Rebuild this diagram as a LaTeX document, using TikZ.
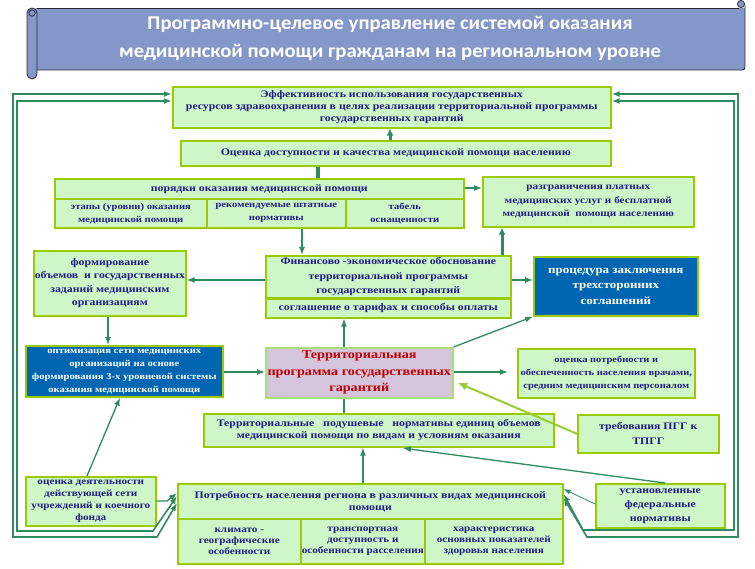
\documentclass[tikz,border=0pt]{standalone}
\usepackage{fontspec}
\setmainfont{Liberation Serif}[FakeStretch=1.18]
\newfontfamily\titlefont{Carlito}[FakeStretch=1.06]
\usetikzlibrary{arrows.meta,calc}
\definecolor{boxfill}{RGB}{206,246,198}
\definecolor{boxline}{RGB}{153,204,0}
\definecolor{txtblue}{RGB}{30,30,135}
\definecolor{arrgreen}{RGB}{46,139,96}
\definecolor{lgarr}{RGB}{153,204,51}
\definecolor{bluefill}{RGB}{0,102,178}
\definecolor{lavfill}{RGB}{212,196,220}
\definecolor{terrline}{RGB}{170,220,120}
\definecolor{terrtext}{RGB}{192,0,0}
\definecolor{titlefill}{RGB}{132,151,201}
\definecolor{titleline}{RGB}{40,40,50}
\begin{document}
\begin{tikzpicture}[x=1pt,y=-1pt,
  sz/.style 2 args={minimum width=#1pt, minimum height=#2pt},
  box/.style={draw=boxline, line width=1.6pt, fill=boxfill, text=txtblue,
    font=\bfseries\fontsize{10}{12}\selectfont, align=center, inner sep=1pt, anchor=north west},
  bluebox/.style={box, fill=bluefill, text=white},
  terrbox/.style={box, draw=terrline, fill=lavfill, text=terrtext, font=\bfseries\fontsize{12}{16.5}\selectfont},
  arr/.style={draw=arrgreen, line width=1.3pt, -{Latex[length=8pt,width=6pt]}},
  thinarr/.style={draw=arrgreen, line width=0.8pt, -{Latex[length=7pt,width=5pt]}},
  thickarr/.style={draw=arrgreen, line width=3pt, -{Latex[length=7pt,width=7pt]}},
  thickline/.style={draw=arrgreen, line width=4pt},
  plainline/.style={draw=arrgreen, line width=1.3pt},
  lgarrow/.style={draw=lgarr, line width=2pt, -{Latex[length=10pt,width=8pt]}},
  loop/.style={draw=arrgreen, line width=1.6pt, {Latex[length=8pt,width=6pt]}-{Latex[length=8pt,width=6pt]}},
  ttl/.style={text=white, font=\titlefont\bfseries\fontsize{19.5}{28}\selectfont, align=center}
]
\useasboundingbox (0,0) rectangle (755,569);
% ---- title scroll
\fill[titlefill] (35,8) rectangle (745,70);
\draw[titleline, line width=0.8pt] (37,8) -- (739,8);
\draw[titleline, line width=0.8pt, rounded corners=3] (745,5) -- (745,70) -- (37,70);
\draw[titleline, line width=0.7pt, fill=titlefill] (741,4) circle (3.6);
\draw[titleline, line width=0.8pt, fill=titlefill, rounded corners=5] (27,8) rectangle (37,79);
\draw[titleline, line width=0.7pt] (32,13) circle (3.2);
\node[ttl] (title) at (390,38) {Программно-целевое управление системой оказания\\медицинской помощи гражданам на региональном уровне};
% ---- boxes
\node[box, sz={438}{41}] (eff) at (172,86) {Эффективность использования государственных\\ресурсов здравоохранения в целях реализации территориальной программы\\государственных гарантий};
\node[box, sz={430}{25}] (ocen) at (180,140) {Оценка доступности и качества медицинской помощи населению};
\node[box, sz={409}{20}] (porh) at (54,178) {порядки оказания медицинской помощи};
\node[box, sz={152}{29}, font=\bfseries\fontsize{9}{13}\selectfont] (porc1) at (54,198) {этапы (уровни) оказания\\медицинской помощи};
\node[box, sz={139}{29}, font=\bfseries\fontsize{9}{13}\selectfont] (porc2) at (206,198) {рекомендуемые штатные\\нормативы};
\node[box, sz={118}{29}, font=\bfseries\fontsize{9}{13}\selectfont] (porc3) at (345,198) {табель\\оснащенности};
\node[box, sz={211}{50}, font=\bfseries\fontsize{9.5}{13.5}\selectfont] (razg) at (482,176) {разграничения платных\\медицинских услуг и бесплатной\\медицинской \ помощи населению};
\node[box, sz={152}{65}, font=\bfseries\fontsize{10}{13.5}\selectfont] (form) at (33,250) {формирование\\объемов \ и государственных\\заданий медицинским\\организациям};
\node[box, sz={245}{42}, font=\bfseries\fontsize{10}{14.5}\selectfont] (fin) at (265,255) {Финансово -экономическое обоснование\\территориальной программы\\государственных гарантий};
\node[box, sz={245}{19}] (sogl) at (265,298) {соглашение о тарифах и способы оплаты};
\node[bluebox, sz={164}{59}, font=\bfseries\fontsize{11}{15.5}\selectfont] (proc) at (533,256) {процедура заключения\\трехсторонних\\соглашений};
\node[bluebox, sz={197}{51}, font=\bfseries\fontsize{9}{13}\selectfont] (opt) at (25,345) {оптимизация сети медицинских\\организаций на основе\\формирования 3-х уровневой системы\\оказания медицинской помощи};
\node[terrbox, sz={187}{50}] (terr) at (265,347) {Территориальная\\программа государственных\\гарантий};
\node[box, sz={177}{49}, font=\bfseries\fontsize{8.9}{13}\selectfont] (ocpot) at (517,348) {оценка потребности и\\обеспеченность населения врачами,\\средним медицинским персоналом};
\node[box, sz={350}{33}] (podush) at (203,413) {Территориальные \ \ подушевые \ \ нормативы единиц объемов\\медицинской помощи по видам и условиям оказания};
\node[box, sz={141}{38}, font=\bfseries\fontsize{10}{15}\selectfont] (treb) at (577,414) {требования ПГГ к\\ТПГГ};
\node[box, sz={129}{44}, font=\bfseries\fontsize{10}{14}\selectfont] (ustan) at (595,483) {установленные\\федеральные\\нормативы};
\node[box, sz={130}{49}, font=\bfseries\fontsize{9.5}{12}\selectfont] (ocdeyat) at (25,476) {оценка деятельности\\действующей сети\\учреждений и коечного\\фонда};
\node[box, sz={385}{35}] (potrh) at (177,483) {Потребность населения региона в различных видах медицинской\\помощи};
\node[box, sz={123}{45}, font=\bfseries\fontsize{9.5}{11}\selectfont] (potr1) at (177,518) {климато -\\географические\\особенности};
\node[box, sz={124}{45}, font=\bfseries\fontsize{9.5}{11}\selectfont] (potr2) at (300,518) {транспортная\\доступность и\\особенности расселения};
\node[box, sz={138}{45}, font=\bfseries\fontsize{9.5}{11}\selectfont] (potr3) at (424,518) {характеристика\\основных показателей\\здоровья населения};
% ---- connectors
\draw[thickarr] (390,0 |- ocen.north) -- (390,0 |- eff.south);
\draw[thickline] (318,0 |- ocen.south) -- (318,0 |- porh.north);
\draw[arr] (porh.east |- 0,188) -- (razg.west |- 0,188);
\draw[arr] (302,0 |- porc2.south) -- (302,0 |- fin.north);
\draw[thickarr] (502,0 |- fin.north) -- (502,0 |- razg.south);
\draw[arr] (fin.west |- 0,280) -- (form.east |- 0,280);
\draw[arr] (fin.east |- 0,280) -- (proc.west |- 0,280);
\draw[arr] (108,0 |- form.south) -- (108,0 |- opt.north);
\draw[arr] (opt.east |- 0,372) -- (terr.west |- 0,372);
\draw[arr] (344,0 |- terr.north) -- (344,0 |- sogl.south);
\draw[arr] (terr.north east) -- (proc.south west);
\draw[arr, shorten >=9pt] (terr.east |- 0,372) -- (ocpot.west |- 0,372);
\draw[lgarrow, shorten >=4pt] (treb.west) -- (terr.east |- 0,381);
\draw[plainline] (344,0 |- podush.north) -- (344,0 |- terr.south);
\draw[arr, shorten >=4pt] (665,0 |- ustan.north) -- (399,0 |- podush.south);
\draw[thinarr] (ustan.west |- 0,504) -- (potrh.east |- 0,489);
\draw[arr] (363,0 |- potrh.north) -- (363,0 |- podush.south);
\draw[arr] (87,0 |- ocdeyat.north) -- (120,0 |- opt.south);
\draw[arr] (ocdeyat.east |- 0,501) -- (167,501) -- (potrh.west |- 0,493);
% ---- feedback loops
\coordinate (l1a) at (17,101); \coordinate (l1b) at (17,531); \coordinate (l1c) at (153,531);
\coordinate (l2a) at (13,94);  \coordinate (l2b) at (13,537); \coordinate (l2c) at (157,537);
\coordinate (r1a) at (738,94); \coordinate (r1b) at (738,537); \coordinate (r1c) at (587,537);
\coordinate (r2a) at (734,101); \coordinate (r2b) at (734,530); \coordinate (r2c) at (583,530);
\draw[loop] (potrh.west |- 0,496) -- (l1c) -- (l1b) -- (l1a) -- (eff.west |- l1a);
\draw[loop] (potrh.west |- 0,503) -- (l2c) -- (l2b) -- (l2a) -- (eff.west |- l2a);
\draw[loop] (potrh.east |- 0,498) -- (r1c) -- (r1b) -- (r1a) -- (eff.east |- r1a);
\draw[loop] (potrh.east |- 0,494) -- (r2c) -- (r2b) -- (r2a) -- (eff.east |- r2a);
\end{tikzpicture}
\end{document}
